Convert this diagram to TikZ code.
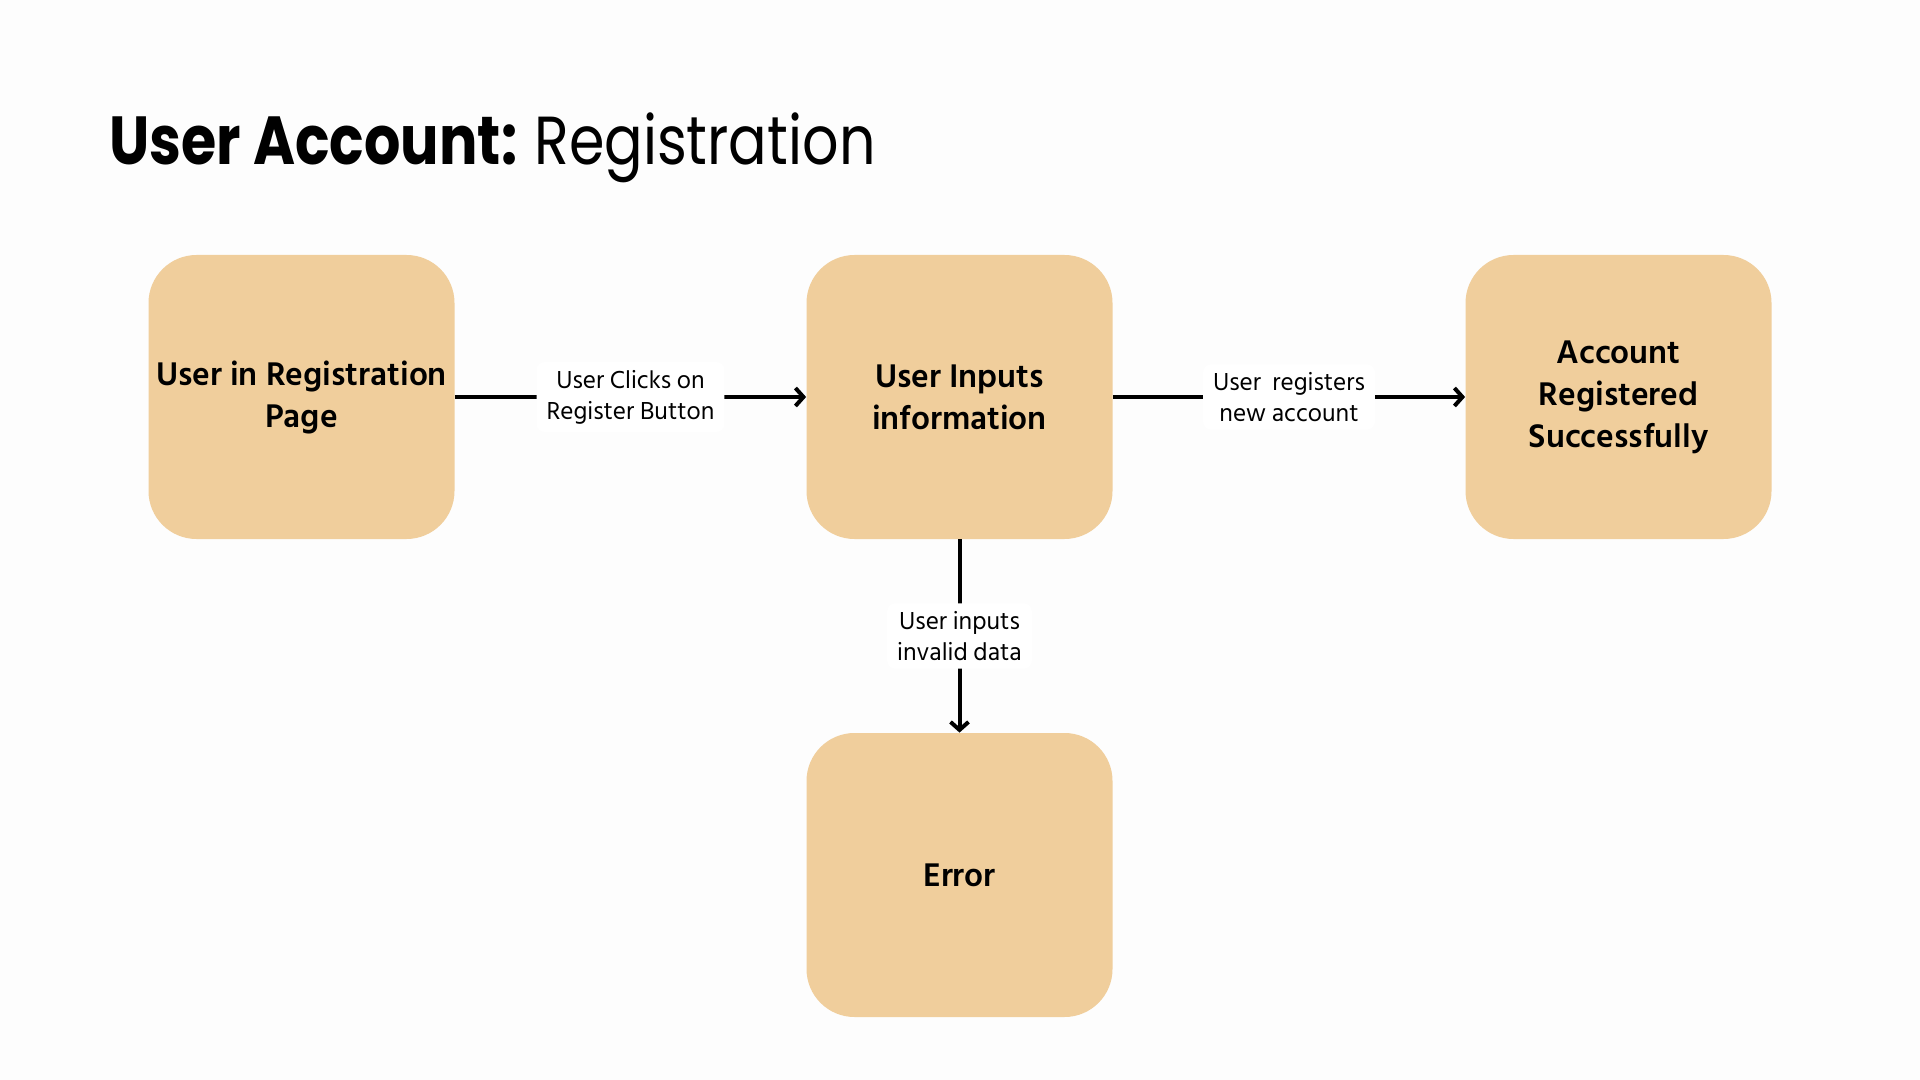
\documentclass[tikz,border=0pt]{standalone}
\usepackage{fontspec}
\setmainfont{Hind Siliguri}
\newfontfamily\titlefont{Poppins}
\usetikzlibrary{arrows.meta}
\definecolor{bg}{HTML}{FDFDFD}
\definecolor{boxfill}{HTML}{F0CE9C}
\tikzset{
  stepbox/.style={fill=boxfill, rounded corners=24pt, minimum width=153pt, minimum height=142pt,
    align=center, font=\fontsize{16.8pt}{21pt}\selectfont\bfseries, inner sep=0pt},
  flow/.style={line width=2pt, -{Straight Barb[length=4pt,width=9pt,line width=2pt]}},
  lbl/.style={fill=white, rounded corners=4pt, align=center, inner xsep=5pt, inner ysep=4pt,
    font=\fontsize{12.6pt}{15.5pt}\selectfont}
}
\begin{document}
\begin{tikzpicture}[x=0.5pt,y=-0.5pt]
\fill[bg] (0,0) rectangle (1920,1080);
\useasboundingbox (0,0) rectangle (1920,1080);
\node[anchor=base west, inner sep=0pt] (title) at (109,165)
  {\scalebox{0.84}[1]{\titlefont\fontsize{34pt}{40pt}\selectfont{\bfseries User Account:}\hspace{-2pt} Registration}};
\node[stepbox] (a) at (301.5,397) {User in Registration\\Page};
\node[stepbox] (b) at (959.5,397) {User Inputs\\information};
\node[stepbox] (c) at (1618.5,397) {Account\\Registered\\Successfully};
\node[stepbox] (e) at (959.5,875) {Error};
\draw[flow] (a) -- node[lbl] (la) {User Clicks on\\Register Button} (b);
\draw[flow] (b) -- node[lbl] (lb) {User\ \ registers\\new account} (c);
\draw[flow] (b) -- node[lbl] (lc) {User inputs\\invalid data} (e);
\end{tikzpicture}
\end{document}
